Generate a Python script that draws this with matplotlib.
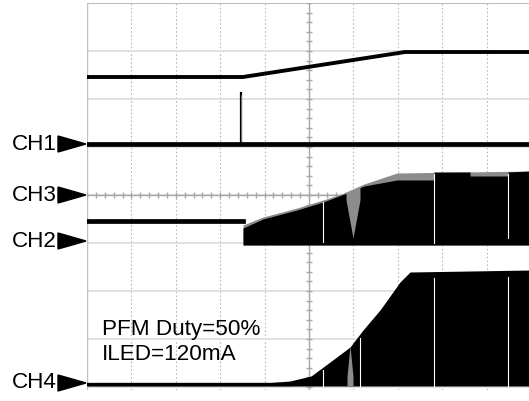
import numpy as np
import matplotlib.pyplot as plt
from matplotlib.patches import Polygon

plt.rcParams['font.family'] = ['Liberation Sans', 'DejaVu Sans']

# 屏幕坐标换算: 1格 = 44.4px (水平), 48px (垂直)
def dx(px):
    return (np.asarray(px, dtype=float) - 87) / 44.4

def dy(py):
    return (387 - np.asarray(py, dtype=float)) / 48

# 各通道关键点 (像素读数)
top_x = [87, 243, 405, 531]
top_y = [77, 77, 52, 52]

ch1_y = 144
spike_x = 241
spike_top = 93

ch2_idle_x = [87, 243]
ch2_idle_y = [221, 221]
ch2_bottom = 245
ch2_env_x = [243, 263, 297, 323, 347, 364, 397, 531]
ch2_env_y = [225, 217, 208, 200, 192, 184, 173, 171]
ch2_blk_x = [243, 263, 297, 323, 347, 364, 397, 434, 434, 470, 470, 508, 508, 531]
ch2_blk_y = [228, 219, 210, 202, 193, 186, 180, 180, 172, 172, 176, 176, 172, 171]
ch2_gaps = [(323, 202, 242), (434, 174, 243), (508, 174, 238)]

ch4_x = [87, 264, 290, 311, 330, 350, 363, 380, 400, 410, 531]
ch4_y = [384, 383, 381, 376, 362, 347, 330, 310, 282, 272, 270]
ch4_bottom = 386
ch4_gaps = [(323, 370, 386), (360, 338, 386), (434, 278, 386), (508, 277, 386)]

markers = ['CH1', 'CH3', 'CH2', 'CH4']
marker_y = [144, 195, 241, 383]

fig = plt.figure(figsize=(5.29, 4.01), dpi=100)
ax = fig.add_axes([87 / 529, 11 / 401, 442 / 529, 387 / 401])
ax.set_xlim(0, dx(529))
ax.set_ylim(dy(390), dy(3))
ax.axis('off')

# 网格
for i in range(1, 11):
    ax.axvline(i, color='#b8b8b8', lw=0.8, ls=(0, (1.5, 2)), zorder=1)
for j in range(0, 8):
    ax.axhline(j, color='#e0e0e0', lw=1.4, zorder=1)
ax.axhline(8, color='#b0b0b0', lw=1.2, zorder=1)
ax.axvline(0, color='#c0c0c0', lw=1.0, zorder=1)
ax.axvline(5, color='#a8a8a8', lw=1.0, zorder=1)
ax.axhline(4, color='#a8a8a8', lw=1.0, zorder=1)
ticks = np.arange(0, 50.1) / 5
ax.hlines(ticks[ticks <= 8], 5 - 0.07, 5 + 0.07, color='#a8a8a8', lw=1.0, zorder=1)
ax.vlines(ticks, 4 - 0.06, 4 + 0.06, color='#a8a8a8', lw=1.0, zorder=1)

# 顶部波形
ax.plot(dx(top_x), dy(top_y), color='black', lw=2.8, zorder=3)

# CH1
ax.plot(dx([87, 531]), dy([ch1_y, ch1_y]), color='black', lw=3.4, zorder=3)
ax.plot(dx([spike_x, spike_x]), dy([ch1_y, spike_top]), color='black', lw=1.6, zorder=3)
ax.plot(dx([spike_x, spike_x]), dy([ch1_y - 3, spike_top + 2]), color='#999999', lw=0.5, zorder=3)

# CH2
ax.plot(dx(ch2_idle_x), dy(ch2_idle_y), color='black', lw=3.4, zorder=3)
ax.fill_between(dx(ch2_env_x), dy(ch2_bottom), dy(ch2_env_y), color='#8c8c8c', lw=0, zorder=2)
ax.fill_between(dx(ch2_blk_x), dy(ch2_bottom), dy(ch2_blk_y), color='black', lw=0, zorder=3)
ax.fill_between(dx([346, 353, 360]), dy([200, 238, 200]), dy([192, 189, 186]),
                color='#8c8c8c', lw=0, zorder=4)
for gx, g0, g1 in ch2_gaps:
    ax.plot(dx([gx, gx]), dy([g0, g1]), color='white', lw=0.8, zorder=5)

# CH4
ax.plot(dx([87, 290]), dy([384, 384]), color='black', lw=2.4, zorder=3)
ax.fill_between(dx(ch4_x), dy(ch4_bottom), dy(ch4_y), color='black', lw=0, zorder=3)
ax.fill_between(dx([347, 350, 353]), dy(386), dy([376, 346, 376]), color='#8c8c8c', lw=0, zorder=4)
for gx, g0, g1 in ch4_gaps:
    ax.plot(dx([gx, gx]), dy([g0, g1]), color='white', lw=0.8, zorder=5)

# 通道标记
for name, my in zip(markers, marker_y):
    yc = float(dy(my))
    tri = Polygon([[float(dx(58)), yc + 8 / 48], [float(dx(58)), yc - 8 / 48], [float(dx(86)), yc]],
                  closed=True, color='black', clip_on=False, zorder=6)
    ax.add_patch(tri)
    ax.text(float(dx(57)), yc, name, ha='right', va='center', fontsize=16.2, clip_on=False)

ax.text(float(dx(102)), float(dy(330)), 'PFM Duty=50%', ha='left', va='center', fontsize=16.2, zorder=6)
ax.text(float(dx(102)), float(dy(355)), 'ILED=120mA', ha='left', va='center', fontsize=16.2, zorder=6)

fig.savefig('out.png', dpi=100)
